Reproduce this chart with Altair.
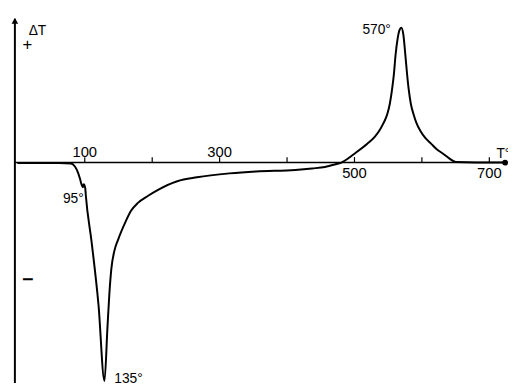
import altair as alt
import pandas as pd

# DTA curve (temperature in deg C, delta T in arbitrary units)
temp = [0, 62, 79.6, 85.4, 89.8, 92.7, 95.6, 97.1, 98.5, 100.7, 101.5, 110.2, 120.4, 129.2,
        133.6, 136.5, 139.4, 143.8, 149.6, 159.9, 168.6, 178.8, 193.4, 208, 237.2, 266.4,
        314.6, 354, 412.4, 437.2, 456.2, 470.8, 480.6, 500.0, 519.0, 530, 536.5, 543, 548.6,
        552.5, 555.9, 558.5, 560.9, 564, 566.5, 569.6, 572.5, 575.5, 578, 580.3, 583.5, 587.6,
        592, 597.8, 605, 613.9, 622, 631.4, 640, 650.4, 680, 723.4]
delta = [-0.05, -0.05, -0.1, -0.4, -1.0, -1.6, -2.3, -2.5, -2.2, -2.6, -3.3, -8.1, -14.5, -22.2,
         -16.8, -13.3, -10.8, -9.0, -7.8, -6.1, -4.9, -4.1, -3.4, -2.8, -1.9, -1.5,
         -1.1, -0.9, -0.75, -0.6, -0.45, -0.2, 0.0, 0.9, 1.9, 2.6, 3.2, 4.0, 4.9,
         6.0, 7.5, 9.0, 10.9, 12.6, 13.4, 13.7, 13.0, 10.9, 9.0, 7.5, 6.0, 4.9,
         4.0, 3.2, 2.5, 1.9, 1.35, 0.9, 0.45, 0.05, 0.0, 0.0]

tick_values = [100, 200, 300, 400, 500, 600, 700]
top_labels = [100, 300]
bottom_labels = [500, 700]

ann_text = ["95°", "135°", "570°"]
ann_t = [98.5, 143.8, 554]
ann_d = [-4.1, -22.4, 13.1]
ann_align = ["right", "left", "right"]

x_dom = [-3.65, 727.7]
y_dom = [-22.4, 15.4]
FONT = "Liberation Sans"

xs = alt.Scale(domain=x_dom, nice=False, zero=False)
ys = alt.Scale(domain=y_dom, nice=False, zero=False)

curve_df = pd.DataFrame({"T": temp, "dT": delta})

curve = alt.Chart(curve_df).mark_line(color="black", strokeWidth=2, clip=False,
                                      interpolate="monotone").encode(
    x=alt.X("T:Q", scale=xs, axis=None),
    y=alt.Y("dT:Q", scale=ys, axis=None),
    order="T:Q",
)

base = alt.Chart(pd.DataFrame({"a": [0]}))

x_axis = base.mark_rule(color="black", strokeWidth=1.5).encode(
    x=alt.datum(x_dom[0], scale=xs), x2=alt.datum(723.4), y=alt.datum(0, scale=ys))
end_dot = base.mark_point(filled=True, color="black", size=35, opacity=1, shape="circle").encode(
    x=alt.datum(723.4, scale=xs), y=alt.datum(0, scale=ys))
y_axis = base.mark_rule(color="black", strokeWidth=2).encode(
    x=alt.datum(x_dom[0], scale=xs), y=alt.datum(y_dom[0], scale=ys), y2=alt.datum(14.6))
arrow = base.mark_point(filled=True, color="black", size=45, opacity=1, shape="triangle-up").encode(
    x=alt.datum(x_dom[0], scale=xs), y=alt.datum(14.4, scale=ys))

ticks = alt.Chart(pd.DataFrame({"v": tick_values})).mark_rule(color="black", strokeWidth=1.2).encode(
    x=alt.X("v:Q", scale=xs), y=alt.datum(0, scale=ys), y2=alt.datum(0.55))

lab_top = alt.Chart(pd.DataFrame({"v": top_labels})).mark_text(
    font=FONT, fontSize=15, color="black", baseline="alphabetic", dy=-6).encode(
    x=alt.X("v:Q", scale=xs), y=alt.datum(0, scale=ys), text="v:N")
lab_bot = alt.Chart(pd.DataFrame({"v": bottom_labels})).mark_text(
    font=FONT, fontSize=15, color="black", baseline="alphabetic", dy=16).encode(
    x=alt.X("v:Q", scale=xs), y=alt.datum(0, scale=ys), text="v:N")

ann_layers = []
for t, x, y, a in zip(ann_text, ann_t, ann_d, ann_align):
    ann_layers.append(base.mark_text(font=FONT, fontSize=14, color="black", align=a,
                                     baseline="alphabetic").encode(
        x=alt.datum(x, scale=xs), y=alt.datum(y, scale=ys), text=alt.value(t)))

dt_label = base.mark_text(font=FONT, fontSize=14, color="black", align="left",
                          baseline="alphabetic").encode(
    x=alt.datum(16.8, scale=xs), y=alt.datum(13.0, scale=ys), text=alt.value("ΔT"))
plus = base.mark_text(font=FONT, fontSize=17, color="black", align="center",
                      baseline="alphabetic").encode(
    x=alt.datum(15.0, scale=xs), y=alt.datum(11.45, scale=ys), text=alt.value("+"))
minus = base.mark_text(font=FONT, fontSize=20, fontWeight="bold", color="black", align="center",
                       baseline="alphabetic").encode(
    x=alt.datum(15.3, scale=xs), y=alt.datum(-12.5, scale=ys), text=alt.value("−"))
t_label = base.mark_text(font=FONT, fontSize=14, color="black", align="left",
                         baseline="alphabetic").encode(
    x=alt.datum(710.5, scale=xs), y=alt.datum(0.5, scale=ys), text=alt.value("T°"))

chart = alt.layer(curve, x_axis, end_dot, y_axis, arrow, ticks, lab_top, lab_bot,
                  *ann_layers, dt_label, plus, minus, t_label).properties(
    width=501, height=378,
    padding={"left": 7, "top": 0, "right": 0, "bottom": 0},
    autosize=alt.AutoSizeParams(type="none"),
    background="white",
).configure_view(stroke=None)

chart.save("out.html", embed_options={"renderer": "svg", "actions": False})
